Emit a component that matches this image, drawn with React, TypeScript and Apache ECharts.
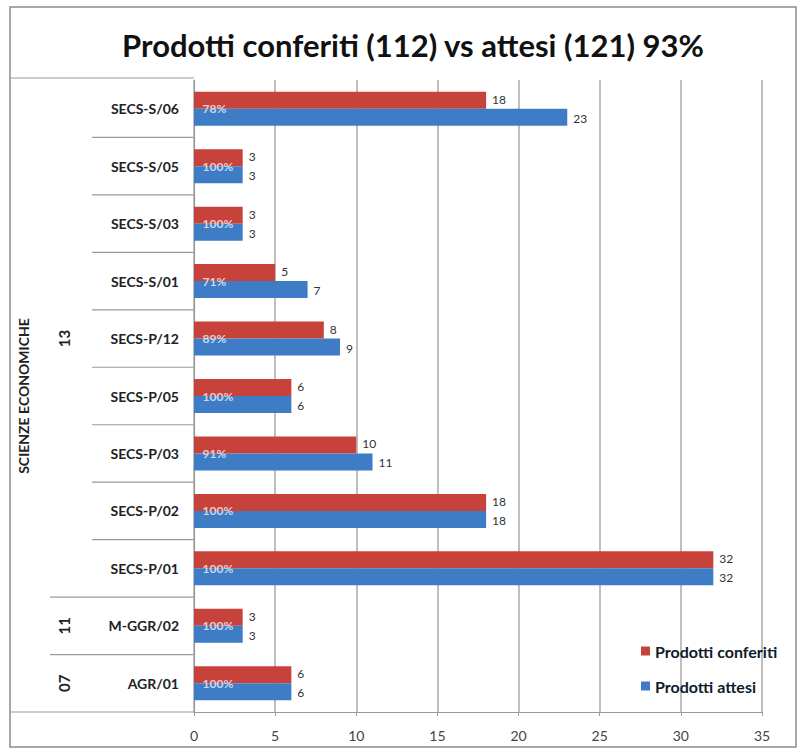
import React, { useEffect, useRef } from "react";
import * as echarts from "echarts";

const categories = [
  "SECS-S/06", "SECS-S/05", "SECS-S/03", "SECS-S/01", "SECS-P/12",
  "SECS-P/05", "SECS-P/03", "SECS-P/02", "SECS-P/01", "M-GGR/02", "AGR/01",
];
const conferiti = [18, 3, 3, 5, 8, 6, 10, 18, 32, 3, 6];
const attesi = [23, 3, 3, 7, 9, 6, 11, 18, 32, 3, 6];
const xTicks = [0, 5, 10, 15, 20, 25, 30, 35];
const groups = [
  { label: "13", from: 0, to: 8 },
  { label: "11", from: 9, to: 9 },
  { label: "07", from: 10, to: 10 },
];
const areaLabel = "SCIENZE ECONOMICHE";
const titleText = "Prodotti conferiti (112) vs attesi (121) 93%";

const W = 798, H = 749;
const GL = 194, GR = 36, GT = 80, GB = 37;
const FONT = "Lato, 'Open Sans', sans-serif";

export default function App() {
  const ref = useRef<HTMLDivElement>(null);
  useEffect(() => {
    if (!ref.current) return;
    const chart = echarts.init(ref.current, null, { renderer: "svg" });
    const n = categories.length;
    const plotBottom = H - GB;
    const rowH = (plotBottom - GT) / n;
    const rowY = (k: number) => GT + k * rowH;
    const lineStyle = { stroke: "#9a9a9a", lineWidth: 1.2 };
    const graphics: any[] = [];
    // outer frame
    graphics.push({ type: "rect", shape: { x: 10, y: 7, width: 786, height: 740 }, style: { fill: "none", stroke: "#8c8c8c", lineWidth: 1.5 }, silent: true });
    // table top
    graphics.push({ type: "line", shape: { x1: 10, y1: GT - 2, x2: GL, y2: GT - 2 }, style: lineStyle, silent: true });
    // bottom
    graphics.push({ type: "line", shape: { x1: 10, y1: plotBottom, x2: GL, y2: plotBottom }, style: lineStyle, silent: true });
    // separators
    const groupStarts = new Set(groups.map((g) => g.from));
    for (let k = 1; k < n; k++) {
      const x1 = groupStarts.has(k) ? 50 : 92;
      graphics.push({ type: "line", shape: { x1, y1: rowY(k), x2: GL, y2: rowY(k) }, style: lineStyle, silent: true });
    }
    groups.forEach((g) => {
      const cy = (rowY(g.from) + rowY(g.to + 1)) / 2;
      graphics.push({
        type: "text", x: 64, y: cy, rotation: Math.PI / 2,
        style: { text: g.label, align: "center", verticalAlign: "middle", font: `bold 15px ${FONT}`, fill: "#222" },
      });
    });
    graphics.push({
      type: "text", x: 23, y: (GT + plotBottom) / 2, rotation: Math.PI / 2,
      style: { text: areaLabel, align: "center", verticalAlign: "middle", font: `bold 14px ${FONT}`, fill: "#222" },
    });

    chart.setOption({
      animation: false,
      backgroundColor: "#fff",
      textStyle: { fontFamily: FONT },
      title: {
        text: titleText, left: 408, top: 24, textAlign: "center",
        textStyle: { fontSize: 31, fontWeight: "bold", color: "#111", fontFamily: FONT },
      },
      legend: {
        orient: "vertical", left: 636, top: 638, itemGap: 19, itemWidth: 9, itemHeight: 9, icon: "rect",
        textStyle: { fontSize: 16, fontWeight: "bold", color: "#0d1b2a", fontFamily: FONT },
        data: ["Prodotti conferiti", "Prodotti attesi"],
      },
      grid: { left: GL, right: GR, top: GT, bottom: GB, containLabel: false },
      xAxis: {
        type: "value", min: 0, max: 35, interval: 5,
        axisLine: { show: true, lineStyle: { color: "#9a9a9a", width: 1.2 } },
        axisTick: { show: true, length: 4, lineStyle: { color: "#9a9a9a" } },
        axisLabel: { fontSize: 14, color: "#444", margin: 16, formatter: (v: number) => (xTicks.includes(v) ? String(v) : "") },
        splitLine: { show: true, lineStyle: { color: "#aaaaaa", width: 1.5 } },
      },
      yAxis: {
        type: "category", data: categories, inverse: true,
        axisLine: { show: true, lineStyle: { color: "#9a9a9a", width: 1.2 } },
        axisTick: { show: false },
        axisLabel: { fontSize: 14, fontWeight: "bold", color: "#222", margin: 15 },
      },
      graphic: graphics,
      series: [
        {
          name: "Prodotti conferiti", type: "bar", data: conferiti, barWidth: 17, barGap: "0%",
          itemStyle: { color: "#c8423c" },
          label: { show: true, position: "right", distance: 6, fontSize: 12, lineHeight: 13, color: "#333", offset: [0, -1] },
        },
        {
          name: "Prodotti attesi", type: "bar", data: attesi, barWidth: 17, barGap: "0%",
          itemStyle: { color: "#3e7cc6" },
          label: { show: true, position: "right", distance: 6, fontSize: 12, lineHeight: 13, color: "#333", offset: [0, 1] },
        },
        {
          name: "pct", type: "scatter", z: 5, symbolSize: 1, silent: true,
          itemStyle: { color: "rgba(0,0,0,0)" },
          data: categories.map((c, i) => [0, c, Math.round((conferiti[i] / attesi[i]) * 100)]),
          label: {
            show: true, position: "right", distance: 8, fontSize: 12, fontWeight: "bold", color: "#f4f0f4",
            formatter: (p: any) => `${p.value[2]}%`,
          },
        },
      ],
    });
    return () => chart.dispose();
  }, []);
  return <div ref={ref} style={{ position: "fixed", left: 0, top: 0, width: W, height: H }} />;
}
